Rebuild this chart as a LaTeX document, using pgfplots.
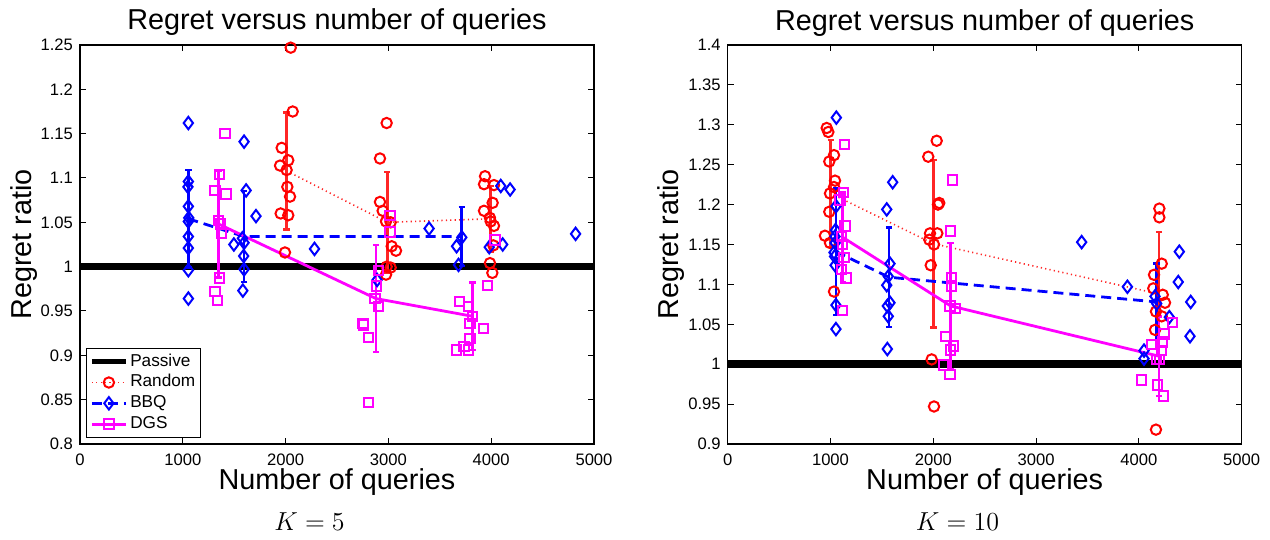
\RequirePackage{fix-cm}
\documentclass[border=0pt]{standalone}
\usepackage[no-math]{fontspec}
\setmainfont{Liberation Sans}
\usepackage{pgfplots}
\pgfplotsset{compat=1.18}

\definecolor{mred}{RGB}{255,0,0}
\definecolor{mblue}{RGB}{0,0,255}
\definecolor{mmag}{RGB}{255,0,255}

\pgfplotsset{
  regret/.style={
    scale only axis, width=257pt, height=199.5pt,
    xmin=0, xmax=5000, xtick={0,1000,2000,3000,4000,5000},
    scaled x ticks=false, scaled y ticks=false,
    /pgf/number format/1000 sep={},
    /pgf/number format/assume math mode=true,
    tick align=inside, major tick length=3pt,
    tick style={black, line width=0.5pt},
    axis line style={line width=0.6pt},
    tick label style={font=\fontsize{8.3}{10}\selectfont},
    xticklabel style={yshift=-1.5pt},
    title={Regret versus number of queries},
    xlabel={Number of queries}, ylabel={Regret ratio},
    title style={font=\fontsize{14.4}{16}\selectfont, at={(axis description cs:0.5,1)}, anchor=base, yshift=1.5pt},
    xlabel style={font=\fontsize{14.4}{16}\selectfont, at={(axis description cs:0.5,0)}, anchor=base, yshift=-23pt},
    ylabel style={font=\fontsize{14.4}{16}\selectfont, at={(axis description cs:-0.0953,0.5)}, anchor=base},
  },
  passive/.style={black, line width=3.7pt, forget plot},
  rnd pts/.style={only marks, forget plot, mred, mark=o, mark size=2.6pt, line width=1pt},
  bbq pts/.style={only marks, forget plot, mblue, mark=diamond, mark size=3.1pt, line width=1pt},
  dgs pts/.style={only marks, forget plot, mmag, mark=square, mark size=2.35pt, line width=1pt},
  mean/.style={forget plot, no marks,
    error bars/y dir=both, error bars/y explicit,
    error bars/error bar style={solid, line width=1.4pt},
    error bars/error mark options={rotate=90, solid, line width=1.2pt, mark size=1.6pt}},
  rnd mean/.style={mean, mred!85, line width=0.8pt, dash pattern=on 0.6pt off 1.6pt},
  bbq mean/.style={mean, mblue, line width=1.4pt, dash pattern=on 5pt off 3pt},
  dgs mean/.style={mean, mmag, line width=1.4pt},
}

\begin{document}
\begin{tikzpicture}
\useasboundingbox (0,0) rectangle (635pt,270pt);

% K = 5
\begin{axis}[regret, at={(40pt,48pt)}, anchor=south west,
  ymin=0.8, ymax=1.25, ytick={0.8,0.85,0.9,0.95,1,1.05,1.1,1.15,1.2,1.25},
  legend style={at={(axis description cs:0.0117,0.015)}, anchor=south west,
    font=\fontsize{8.6}{10}\selectfont, draw=black, line width=0.5pt, inner sep=1.5pt,
    row sep=0pt, nodes={inner sep=1pt, text height=6.4pt, text depth=2pt}},
  legend cell align=left]
  \addplot[passive] coordinates {(0,1) (5000,1)};

  \addplot[rnd pts] coordinates {
    (2050,1.247) (2069,1.175) (1962,1.134) (2026,1.120) (1946,1.114) (2010,1.109)
    (2017,1.090) (2043,1.079) (1952,1.060) (2026,1.058) (1994,1.016)
    (2983,1.162) (2918,1.122) (2918,1.073) (2944,1.063) (2977,1.051) (3022,1.050)
    (3032,1.023) (3074,1.018) (2983,1.000) (3022,0.999) (2977,0.991)
    (3940,1.102) (3930,1.093) (4027,1.092) (4014,1.072) (3930,1.063) (3988,1.055)
    (3995,1.051) (4027,1.046) (4021,1.024) (3988,1.004) (4011,0.993)};
  \addplot[bbq pts] coordinates {
    (1054,1.162) (1054,1.096) (1050,1.090) (1054,1.068) (1058,1.055) (1054,1.051)
    (1054,1.034) (1054,1.021) (1054,0.996) (1054,0.964)
    (1497,1.025) (1596,1.141) (1616,1.086) (1596,1.027) (1592,1.012) (1596,0.997)
    (1584,0.973) (1712,1.057) (1580,1.032)
    (2281,1.020) (2890,0.985) (3396,1.043) (3663,1.023) (3682,1.002) (3714,1.033)
    (3981,1.022) (4093,1.091) (4112,1.025) (4184,1.087) (4821,1.037)};
  \addplot[dgs pts] coordinates {
    (1411,1.150) (1355,1.104) (1313,1.086) (1420,1.082) (1346,1.052) (1368,1.048)
    (1378,1.038) (1355,0.987) (1313,0.972) (1336,0.962)
    (3016,1.058) (3016,1.039) (2902,0.996) (2886,0.978) (2870,0.964) (2902,0.955)
    (2756,0.934) (2805,0.920) (2807,0.847) (2751,0.936)
    (4037,1.030) (3966,0.979) (3690,0.961) (3777,0.955) (3820,0.944) (3794,0.936)
    (3923,0.930) (3794,0.919) (3664,0.906) (3777,0.906) (3735,0.910)};

  \addplot[rnd mean] coordinates {(2010,1.108) +- (0,0.066) (2989,1.050) +- (0,0.057) (3992,1.054) +- (0,0.037)};
  \addplot[bbq mean] coordinates {(1054,1.054) +- (0,0.055) (1596,1.034) +- (0,0.051) (3714,1.034) +- (0,0.033)};
  \addplot[dgs mean] coordinates {(1350,1.048) +- (0,0.060) (2879,0.964) +- (0,0.0605) (3820,0.944) +- (0,0.038)};

  \addlegendimage{black, line width=2.3pt}
  \addlegendentry{Passive}
  \addlegendimage{mred!85, line width=0.8pt, dash pattern=on 0.6pt off 1.6pt, mark=o, mark size=2.6pt, mark options={solid, mred, line width=1pt}}
  \addlegendentry{Random}
  \addlegendimage{mblue, line width=1.4pt, dash pattern=on 5pt off 3pt, mark=diamond, mark size=3.1pt, mark options={solid, line width=1pt}}
  \addlegendentry{BBQ}
  \addlegendimage{mmag, line width=1.4pt, mark=square, mark size=2.35pt, mark options={line width=1pt}}
  \addlegendentry{DGS}
\end{axis}

% K = 10
\begin{axis}[regret, at={(363.85pt,48pt)}, anchor=south west,
  ymin=0.9, ymax=1.4, ytick={0.9,0.95,1,1.05,1.1,1.15,1.2,1.25,1.3,1.35,1.4}]
  \addplot[passive] coordinates {(0,1) (5000,1)};

  \addplot[rnd pts] coordinates {
    (963,1.296) (979,1.291) (1034,1.262) (988,1.254) (1044,1.230) (1034,1.222)
    (995,1.214) (988,1.191) (946,1.161) (995,1.152) (1034,1.091)
    (2033,1.280) (1951,1.260) (2058,1.202) (2045,1.200) (1968,1.164) (2039,1.164)
    (1961,1.156) (2007,1.150) (1975,1.124) (1984,1.006) (2007,0.947)
    (4199,1.195) (4199,1.184) (4222,1.126) (4147,1.112) (4140,1.095) (4232,1.087)
    (4254,1.077) (4166,1.066) (4222,1.060) (4157,1.043) (4166,0.918)};
  \addplot[bbq pts] coordinates {
    (1057,1.309) (1053,1.198) (1049,1.168) (1045,1.152) (1034,1.140) (1045,1.124)
    (1053,1.074) (1053,1.044) (1044,1.160) (1040,1.135)
    (1605,1.228) (1547,1.194) (1579,1.126) (1562,1.110) (1547,1.099) (1579,1.077)
    (1553,1.073) (1562,1.060) (1553,1.019)
    (3443,1.153) (3888,1.097) (4157,1.085) (4173,1.076) (4393,1.141) (4383,1.103)
    (4504,1.078) (4497,1.035) (4296,1.059) (4050,1.017) (4050,1.007)};
  \addplot[dgs pts] coordinates {
    (1134,1.275) (1125,1.215) (1092,1.206) (1141,1.173) (1109,1.160) (1115,1.150)
    (1131,1.134) (1109,1.119) (1151,1.108) (1119,1.067)
    (2185,1.231) (2169,1.167) (2179,1.108) (2179,1.098) (2163,1.073) (2211,1.070)
    (2121,1.035) (2195,1.023) (2169,1.018) (2097,0.999) (2163,0.987)
    (4325,1.052) (4244,1.038) (4232,1.028) (4124,1.025) (4222,1.017) (4173,1.006)
    (4200,1.006) (4027,0.980) (4179,0.974) (4238,0.960)};

  \addplot[rnd mean] coordinates {(1002,1.214) +- (0,0.067) (2000,1.151) +- (0,0.105) (4196,1.088) +- (0,0.078)};
  \addplot[bbq mean] coordinates {(1053,1.141) +- (0,0.079) (1569,1.109) +- (0,0.0625) (4173,1.078) +- (0,0.048)};
  \addplot[dgs mean] coordinates {(1119,1.159) +- (0,0.056) (2169,1.073) +- (0,0.079) (4196,1.010) +- (0,0.050)};
\end{axis}

\node[anchor=base, font=\fontsize{13}{15}\selectfont] at (154.75pt,4.65pt) {$K=5$};
\node[anchor=base, font=\fontsize{13}{15}\selectfont] at (478.75pt,4.65pt) {$K=10$};
\end{tikzpicture}
\end{document}
